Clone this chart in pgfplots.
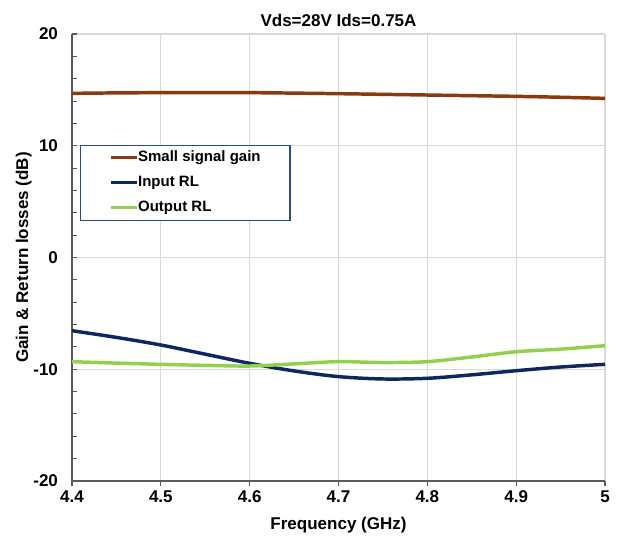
\documentclass[border=0pt]{standalone}
\usepackage{pgfplots}
\pgfplotsset{compat=1.18}
\usepackage{fontspec}
\setmainfont{Liberation Sans}
\definecolor{gaincol}{HTML}{8B3A0E}
\definecolor{inrl}{HTML}{0F2760}
\definecolor{outrl}{HTML}{92D050}
\definecolor{gridc}{HTML}{D9D9D9}
\definecolor{axc}{HTML}{595959}
\definecolor{legc}{HTML}{2F4A8A}
\begin{document}
\begin{tikzpicture}[x=0.75pt,y=0.75pt]
\begin{axis}[
  scale only axis,
  width=399.75pt, height=335.25pt,
  xmin=4.4, xmax=5, ymin=-20, ymax=20,
  axis x line*=bottom, axis y line*=left,
  axis line style={axc, line width=1pt},
  xtick={4.4,4.5,...,5.0},
  xticklabels={4.4,4.5,4.6,4.7,4.8,4.9,5},
  ytick={-20,-10,0,10,20},
  minor y tick num=4,
  grid=major,
  major grid style={gridc, line width=0.8pt},
  tick align=inside,
  major tick length=3.75pt, minor tick length=3.75pt,
  tick style={axc, line width=0.8pt},
  x tick style={yshift=-3.75pt},
  font=\fontsize{12.75}{14}\selectfont\bfseries,
  ticklabel style={font=\fontsize{12.75}{14}\selectfont\bfseries},
  /pgf/number format/assume math mode=true,
  yticklabel style={xshift=-7pt},
  xticklabel style={yshift=-4pt},
  xlabel={Frequency (GHz)},
  ylabel={Gain \& Return losses (dB)},
  xlabel style={yshift=-4pt},
  ylabel style={yshift=-5.5pt},
  title={Vds=28V Ids=0.75A},
  title style={yshift=-4pt, font=\fontsize{12.75}{14}\selectfont\bfseries},
  legend cell align=left,
  legend style={at={(0.015,0.752)}, anchor=north west, draw=legc, line width=0.8pt, fill=white,
    inner xsep=22pt, inner ysep=3.75pt, row sep=7.75pt,
    font=\fontsize{11.25}{13}\selectfont\bfseries,
    nodes={inner xsep=0pt, inner ysep=0pt, text height=8.5pt, text depth=2.5pt}},
  legend image code/.code={\draw[#1, line width=2.2pt] (0pt,0pt) -- (19pt,0pt);},
]
\addplot[gaincol, line width=2.6pt, smooth] coordinates {
(4.40,14.69) (4.45,14.73) (4.50,14.75) (4.55,14.76) (4.60,14.75) (4.65,14.71) (4.70,14.66)
(4.75,14.60) (4.80,14.54) (4.85,14.48) (4.90,14.42) (4.95,14.34) (5.00,14.24)};
\addlegendentry{Small signal gain}
\addplot[inrl, line width=2.6pt, smooth] coordinates {
(4.40,-6.55) (4.45,-7.15) (4.50,-7.83) (4.55,-8.65) (4.60,-9.47) (4.65,-10.15) (4.70,-10.66)
(4.75,-10.87) (4.80,-10.81) (4.85,-10.50) (4.90,-10.13) (4.95,-9.80) (5.00,-9.56)};
\addlegendentry{Input RL}
\addplot[outrl, line width=2.6pt, smooth] coordinates {
(4.40,-9.32) (4.45,-9.45) (4.50,-9.56) (4.55,-9.65) (4.60,-9.71) (4.65,-9.52) (4.70,-9.32)
(4.75,-9.40) (4.80,-9.32) (4.85,-8.90) (4.90,-8.43) (4.95,-8.20) (5.00,-7.89)};
\addlegendentry{Output RL}
\end{axis}
\path (current axis.south west) ++(-72,-59) rectangle ++(621,540);
\end{tikzpicture}
\end{document}
